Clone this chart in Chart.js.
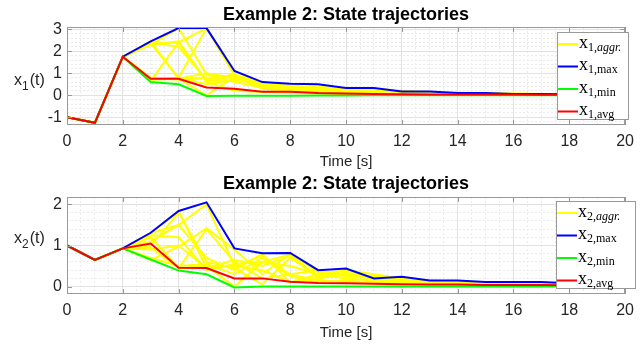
<!DOCTYPE html>
<html>
<head>
<meta charset="UTF-8">
<title>Example 2: State trajectories</title>
<script src="https://cdn.jsdelivr.net/npm/chart.js@4.4.0/dist/chart.umd.min.js"></script>
<style>
  html, body { margin: 0; padding: 0; background: #fff; }
  #wrap { position: relative; width: 641px; height: 346px; }
  canvas { position: absolute; left: 0; }
</style>
</head>
<body>
<div id="wrap">
  <canvas id="c1" width="641" height="173" style="top:0"></canvas>
  <canvas id="c2" width="641" height="173" style="top:173px"></canvas>
</div>
<script>
// time steps
const time = [0, 1, 2, 3, 4, 5, 6, 7, 8, 9, 10, 11, 12, 13, 14, 15, 16, 17, 18, 19, 20];
const xTicks = [0, 2, 4, 6, 8, 10, 12, 14, 16, 18, 20];
const y1Ticks = [-1, 0, 1, 2, 3];
const y2Ticks = [0, 1, 2];

// state x1
const x1Avg = [-1, -1.25, 1.75, 0.75, 0.75, 0.35, 0.3, 0.16, 0.16, 0.1, 0.08, 0.06, 0.05, 0.04, 0.04, 0.03, 0.03, 0.02, 0.02, 0.02, 0.02];
const x1Max = [-1, -1.25, 1.75, 2.45, 3.05, 3.05, 1.1, 0.6, 0.52, 0.5, 0.33, 0.33, 0.17, 0.17, 0.1, 0.1, 0.06, 0.06, 0.05, 0.05, 0.04];
const x1Min = [-1, -1.25, 1.75, 0.6, 0.5, -0.03, -0.02, -0.02, -0.02, -0.01, -0.01, 0, 0, 0, 0, 0, 0, 0, 0, 0, 0];
const x1Aggr = [
  [-1, -1.25, 1.75, 2.35, 2.4, 3.05, 0.9, 0.4, 0.3, 0.25, 0.2, 0.15, 0.12, 0.1, 0.1, 0.08, 0.07, 0.06, 0.05, 0.05, 0.04],
  [-1, -1.25, 1.75, 2.3, 3.05, 0.95, 0.6, 0.35, 0.45, 0.3, 0.3, 0.2, 0.15, 0.12, 0.1, 0.08, 0.06, 0.05, 0.05, 0.04, 0.03],
  [-1, -1.25, 1.75, 2.4, 2.2, 0.7, 0.95, 0.5, 0.3, 0.25, 0.2, 0.15, 0.12, 0.1, 0.08, 0.07, 0.06, 0.05, 0.04, 0.04, 0.03],
  [-1, -1.25, 1.75, 2.45, 0.75, 1.0, 0.8, 0.4, 0.35, 0.2, 0.15, 0.12, 0.1, 0.08, 0.07, 0.06, 0.05, 0.04, 0.04, 0.03, 0.03],
  [-1, -1.25, 1.75, 0.75, 0.8, 3.05, 1.1, 0.5, 0.4, 0.35, 0.3, 0.3, 0.2, 0.15, 0.12, 0.1, 0.08, 0.06, 0.05, 0.05, 0.04],
  [-1, -1.25, 1.75, 0.7, 0.75, 0.0, 0.85, 0.3, 0.2, 0.15, 0.1, 0.08, 0.06, 0.05, 0.04, 0.03, 0.03, 0.02, 0.02, 0.02, 0.01],
  [-1, -1.25, 1.75, 0.65, 2.4, 0.6, 0.2, 0.15, 0.1, 0.08, 0.06, 0.05, 0.04, 0.03, 0.03, 0.02, 0.02, 0.02, 0.01, 0.01, 0.01],
  [-1, -1.25, 1.75, 2.35, 0.8, 0.5, 0.7, 0.6, 0.4, 0.2, 0.15, 0.1, 0.08, 0.06, 0.05, 0.04, 0.03, 0.03, 0.02, 0.02, 0.02],
  [-1, -1.25, 1.75, 0.8, 0.7, 0.8, 0.9, 0.35, 0.25, 0.3, 0.25, 0.15, 0.12, 0.1, 0.08, 0.06, 0.05, 0.04, 0.03, 0.03, 0.02],
  [-1, -1.25, 1.75, 2.3, 2.45, 0.65, 0.75, 0.45, 0.35, 0.4, 0.3, 0.28, 0.18, 0.14, 0.1, 0.08, 0.06, 0.05, 0.04, 0.04, 0.03]
];

// state x2
const x2Avg = [1.0, 0.65, 0.93, 1.05, 0.46, 0.45, 0.2, 0.2, 0.12, 0.09, 0.08, 0.07, 0.06, 0.05, 0.05, 0.04, 0.04, 0.04, 0.03, 0.03, 0.03];
const x2Max = [1.0, 0.65, 0.93, 1.31, 1.84, 2.05, 0.93, 0.81, 0.82, 0.4, 0.44, 0.2, 0.24, 0.15, 0.15, 0.11, 0.11, 0.11, 0.08, 0.07, 0.06];
const x2Min = [1.0, 0.65, 0.93, 0.66, 0.39, 0.3, -0.02, 0, 0, 0, 0, 0, 0, 0, 0, 0, 0, 0, 0, 0, 0];
const x2Aggr = [
  [1.0, 0.65, 0.93, 1.29, 1.84, 0.45, 0.65, 0.5, 0.75, 0.2, 0.3, 0.25, 0.2, 0.15, 0.12, 0.1, 0.08, 0.07, 0.06, 0.05, 0.05],
  [1.0, 0.65, 0.93, 1.1, 1.5, 2.0, 0.5, 0.75, 0.3, 0.4, 0.3, 0.2, 0.15, 0.12, 0.1, 0.08, 0.07, 0.06, 0.05, 0.05, 0.04],
  [1.0, 0.65, 0.93, 0.65, 0.97, 1.42, 0.9, 0.3, 0.8, 0.35, 0.25, 0.2, 0.15, 0.12, 0.1, 0.08, 0.07, 0.06, 0.05, 0.04, 0.04],
  [1.0, 0.65, 0.93, 1.3, 1.5, 0.7, 0.4, 0.8, 0.1, 0.3, 0.4, 0.3, 0.2, 0.15, 0.12, 0.1, 0.08, 0.07, 0.06, 0.05, 0.05],
  [1.0, 0.65, 0.93, 0.95, 0.45, 0.5, 0.0, 0.6, 0.5, 0.3, 0.2, 0.15, 0.12, 0.1, 0.08, 0.07, 0.06, 0.05, 0.04, 0.04, 0.03],
  [1.0, 0.65, 0.93, 1.2, 0.45, 1.4, 0.6, 0.2, 0.3, 0.15, 0.12, 0.1, 0.08, 0.07, 0.06, 0.05, 0.04, 0.04, 0.03, 0.03, 0.03],
  [1.0, 0.65, 0.93, 0.9, 1.0, 0.45, 0.5, 0.4, 0.1, 0.2, 0.35, 0.2, 0.12, 0.1, 0.08, 0.07, 0.06, 0.05, 0.04, 0.04, 0.03],
  [1.0, 0.65, 0.93, 0.7, 0.5, 0.55, 0.3, 0.7, 0.25, 0.1, 0.15, 0.1, 0.08, 0.07, 0.06, 0.05, 0.04, 0.04, 0.03, 0.03, 0.02],
  [1.0, 0.65, 0.93, 1.0, 1.8, 0.6, 0.45, 0.05, 0.7, 0.25, 0.3, 0.2, 0.1, 0.09, 0.08, 0.06, 0.05, 0.04, 0.04, 0.03, 0.03],
  [1.0, 0.65, 0.93, 1.25, 1.2, 0.4, 0.55, 0.6, 0.78, 0.22, 0.42, 0.18, 0.22, 0.12, 0.1, 0.08, 0.07, 0.06, 0.05, 0.04, 0.04]
];

const colAggr = '#ffff00', colMax = '#0000ff', colMin = '#00ff00', colAvg = '#ff0000';
const SANS = '"Liberation Sans", Arial, sans-serif';
const SERIF = '"Liberation Serif", "Times New Roman", serif';

// titles, axis label, legend, box - drawn on top
const decor = {
  id: 'decor',
  afterDraw(chart, args, o) {
    const ctx = chart.ctx, a = chart.chartArea;
    ctx.save();
    // axes box + inward ticks
    ctx.strokeStyle = '#999';
    ctx.lineWidth = 1;
    ctx.strokeRect(Math.round(a.left) + 0.5, Math.round(a.top) + 0.5, Math.round(a.right - a.left) - 1, Math.round(a.bottom - a.top) - 1);
    ctx.beginPath();
    chart.scales.x.ticks.forEach(t => {
      const px = Math.round(chart.scales.x.getPixelForValue(t.value)) + 0.5;
      ctx.moveTo(px, a.bottom); ctx.lineTo(px, a.bottom - 5);
      ctx.moveTo(px, a.top); ctx.lineTo(px, a.top + 5);
    });
    chart.scales.y.ticks.forEach(t => {
      const py = Math.round(chart.scales.y.getPixelForValue(t.value)) + 0.5;
      ctx.moveTo(a.left, py); ctx.lineTo(a.left + 5, py);
      ctx.moveTo(a.right, py); ctx.lineTo(a.right - 5, py);
    });
    ctx.stroke();

    // title
    ctx.fillStyle = '#000';
    ctx.font = 'bold 18px ' + SANS;
    ctx.textAlign = 'center';
    ctx.textBaseline = 'alphabetic';
    ctx.fillText(o.title, (a.left + a.right) / 2, o.titleY);

    // y label
    ctx.textAlign = 'left';
    ctx.fillStyle = '#262626';
    let x = 14;
    ctx.font = '16px ' + SANS;
    ctx.fillText('x', x, o.labelY); x += ctx.measureText('x').width;
    ctx.font = '12px ' + SANS;
    ctx.fillText(o.sub, x, o.labelY + 5); x += ctx.measureText(o.sub).width + 1;
    ctx.font = '16px ' + SANS;
    ctx.fillText('(t)', x, o.labelY);

    // legend
    const L = o.legend;
    ctx.fillStyle = '#fff';
    ctx.fillRect(L.x, L.y, L.w, L.h);
    ctx.strokeStyle = '#999';
    ctx.strokeRect(L.x + 0.5, L.y + 0.5, L.w - 1, L.h - 1);
    o.items.forEach((it, i) => {
      const cy = L.y + 12 + 22.5 * i;
      ctx.strokeStyle = it.color;
      ctx.lineWidth = 2;
      ctx.beginPath();
      ctx.moveTo(L.x + 1, cy); ctx.lineTo(L.x + 21, cy);
      ctx.stroke();
      ctx.fillStyle = '#000';
      let tx = L.x + 22;
      ctx.font = '18px ' + SERIF;
      ctx.fillText('x', tx, cy + 3.5); tx += ctx.measureText('x').width;
      ctx.font = '12px ' + SERIF;
      const head = o.sub + ',';
      ctx.fillText(head, tx, cy + 6.5); tx += ctx.measureText(head).width;
      ctx.font = (it.italic ? 'italic ' : '') + '12px ' + SERIF;
      ctx.fillText(it.text, tx, cy + 6.5);
    });
    ctx.restore();
  }
};

function lineSet(values, color) {
  return {
    data: time.map((t, i) => ({ x: t, y: values[i] })),
    borderColor: color,
    borderWidth: 2,
    pointRadius: 0,
    tension: 0,
    fill: false
  };
}

function setTicks(list) {
  return s => { s.ticks = list.map(v => ({ value: v })); };
}

function minorTicks(lo, hi, step) {
  const out = [];
  for (let i = 0; lo + i * step <= hi + 1e-9; i++) out.push(+(lo + i * step).toFixed(4));
  return out;
}

function buildChart(id, aggr, mx, mn, avg, o) {
  // chart.js paints dataset 0 last (on top), so list avg first
  const datasets = [lineSet(avg, colAvg), lineSet(mn, colMin), lineSet(mx, colMax)];
  aggr.forEach(arr => datasets.push(lineSet(arr, colAggr)));
  const isMajor = (v, list) => list.some(m => Math.abs(m - v) < 1e-6);
  return new Chart(document.getElementById(id), {
    type: 'line',
    data: { datasets },
    options: {
      responsive: false,
      animation: false,
      events: [],
      layout: { padding: { left: 0, right: 8, top: o.padTop, bottom: 0 } },
      plugins: {
        legend: { display: false },
        tooltip: { enabled: false },
        decor: o.decor
      },
      scales: {
        x: {
          type: 'linear', position: 'bottom', min: 0, max: 20,
          afterBuildTicks: setTicks(xTicks),
          afterFit: s => { s.height = o.xHeight; },
          grid: { color: '#e2e2e2', drawTicks: false },
          border: { display: false },
          ticks: { color: '#262626', font: { size: 16, family: SANS }, padding: 7, maxRotation: 0 },
          title: { display: true, text: 'Time [s]', color: '#262626', font: { size: 15, family: SANS }, padding: { top: 0, bottom: o.xTitlePad } }
        },
        xm: {
          type: 'linear', position: 'bottom', min: 0, max: 20,
          afterBuildTicks: setTicks(minorTicks(0, 20, 0.5)),
          afterFit: s => { s.height = 0; },
          ticks: { display: false },
          grid: { drawTicks: false, color: c => isMajor(c.tick.value, xTicks) ? 'rgba(0,0,0,0)' : '#ebebeb' },
          border: { display: false, dash: [2, 2] }
        },
        y: {
          type: 'linear', position: 'left', min: o.yMin, max: o.yMax,
          afterBuildTicks: setTicks(o.yTicks),
          afterFit: s => { s.width = 67; },
          grid: { color: '#e2e2e2', drawTicks: false },
          border: { display: false },
          ticks: { color: '#262626', font: { size: 16, family: SANS }, padding: 5 }
        },
        ym: {
          type: 'linear', position: 'left', min: o.yMin, max: o.yMax,
          afterBuildTicks: setTicks(minorTicks(Math.ceil(o.yMin / 0.2) * 0.2, o.yMax, 0.2)),
          afterFit: s => { s.width = 0; },
          ticks: { display: false },
          grid: { drawTicks: false, color: c => isMajor(c.tick.value, o.yTicks) ? 'rgba(0,0,0,0)' : '#ebebeb' },
          border: { display: false, dash: [2, 2] }
        }
      }
    },
    plugins: [decor]
  });
}

buildChart('c1', x1Aggr, x1Max, x1Min, x1Avg, {
  padTop: 27, xHeight: 48, xTitlePad: 2, yMin: -1.35, yMax: 3.1, yTicks: y1Ticks,
  decor: {
    title: 'Example 2: State trajectories', titleY: 20, labelY: 85, sub: '1',
    legend: { x: 557, y: 32, w: 72, h: 88 },
    items: [
      { color: colAggr, text: 'aggr.', italic: true },
      { color: colMax, text: 'max' },
      { color: colMin, text: 'min' },
      { color: colAvg, text: 'avg' }
    ]
  }
});

buildChart('c2', x2Aggr, x2Max, x2Min, x2Avg, {
  padTop: 24, xHeight: 52, xTitlePad: 4, yMin: -0.18, yMax: 2.18, yTicks: y2Ticks,
  decor: {
    title: 'Example 2: State trajectories', titleY: 16, labelY: 70, sub: '2',
    legend: { x: 556, y: 28, w: 80, h: 88 },
    items: [
      { color: colAggr, text: 'aggr.', italic: true },
      { color: colMax, text: 'max' },
      { color: colMin, text: 'min' },
      { color: colAvg, text: 'avg' }
    ]
  }
});
</script>
</body>
</html>
